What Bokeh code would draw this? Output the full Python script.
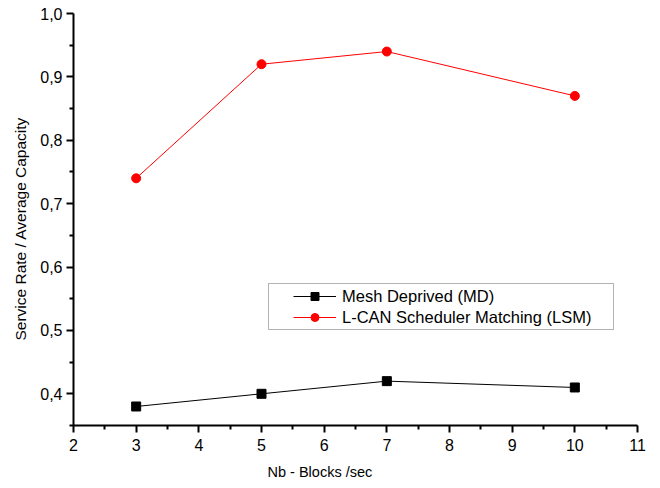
from bokeh.plotting import figure
from bokeh.embed import file_html
from bokeh.resources import INLINE
from bokeh.models import (Range1d, CustomJSTickFormatter, FixedTicker, Legend, LegendItem,
                          Title, BoxAnnotation)

# data
blocks = [3, 5, 7, 10]
md = [0.38, 0.40, 0.42, 0.41]
lsm = [0.74, 0.92, 0.94, 0.87]
x_ticks = [2, 3, 4, 5, 6, 7, 8, 9, 10, 11]
y_ticks = [0.4, 0.5, 0.6, 0.7, 0.8, 0.9, 1.0]
md_label = "Mesh Deprived (MD)"
lsm_label = "L-CAN Scheduler Matching (LSM)"
x_title = "Nb - Blocks /sec"
y_title = "Service Rate / Average Capacity"

FONT = "Liberation Sans"

p = figure(width=660, height=488, output_backend="svg", toolbar_location=None,
           x_range=Range1d(2, 11), y_range=Range1d(0.35, 1.0),
           min_border_left=73, min_border_right=23, min_border_top=13, min_border_bottom=63)
p.outline_line_color = None
p.grid.visible = False
p.background_fill_color = "white"
p.border_fill_color = "white"

r1l = p.line(blocks, md, line_color="black", line_width=1)
r1m = p.scatter(blocks, md, marker="square", size=9, fill_color="black", line_color="black")
r2l = p.line(blocks, lsm, line_color="#ff0000", line_width=1)
r2m = p.scatter(blocks, lsm, marker="circle", size=9, fill_color="#ff0000", line_color="#ff0000")

for ax in (p.xaxis[0], p.yaxis[0]):
    ax.axis_line_width = 2
    ax.axis_line_color = "black"
    ax.major_tick_line_width = 2
    ax.minor_tick_line_width = 2
    ax.major_tick_in = 0
    ax.major_tick_out = 7
    ax.minor_tick_in = 0
    ax.minor_tick_out = 4
    ax.major_label_text_font = FONT
    ax.major_label_text_font_size = "16px"
    ax.major_label_text_color = "black"

p.xaxis.ticker = FixedTicker(ticks=x_ticks, minor_ticks=[t + 0.5 for t in x_ticks[:-1]])
p.yaxis.ticker = FixedTicker(ticks=y_ticks, minor_ticks=[0.35] + [t + 0.05 for t in y_ticks[:-1]])
p.xaxis.major_label_standoff = 6
p.yaxis.major_label_standoff = 4
p.yaxis.formatter = CustomJSTickFormatter(code="return tick.toFixed(1).replace('.', ',');")

p.add_layout(Title(text=x_title, align="left", offset=194, standoff=16, text_line_height=0.3,
                   text_font=FONT, text_font_size="14.5px", text_font_style="normal",
                   text_color="black"), "below")
p.add_layout(Title(text=y_title, align="left", offset=85, standoff=18,
                   text_font=FONT, text_font_size="15.5px", text_font_style="normal",
                   text_color="black"), "left")

box = BoxAnnotation(left=268, right=613, top=283, bottom=329,
                    left_units="canvas", right_units="canvas", top_units="canvas", bottom_units="canvas",
                    fill_alpha=0, line_color="black", line_width=1)
p.add_layout(box)

legend = Legend(items=[LegendItem(label=md_label, renderers=[r1l, r1m]),
                       LegendItem(label=lsm_label, renderers=[r2l, r2m])],
                location=(220, 98), orientation="vertical",
                glyph_width=43, glyph_height=20, label_height=20, label_standoff=6,
                spacing=1, padding=0, margin=0,
                border_line_alpha=0, background_fill_alpha=0,
                label_text_font=FONT, label_text_font_size="16.5px", label_text_color="black")
p.add_layout(legend)

open("out.html", "w").write(file_html(p, INLINE))
